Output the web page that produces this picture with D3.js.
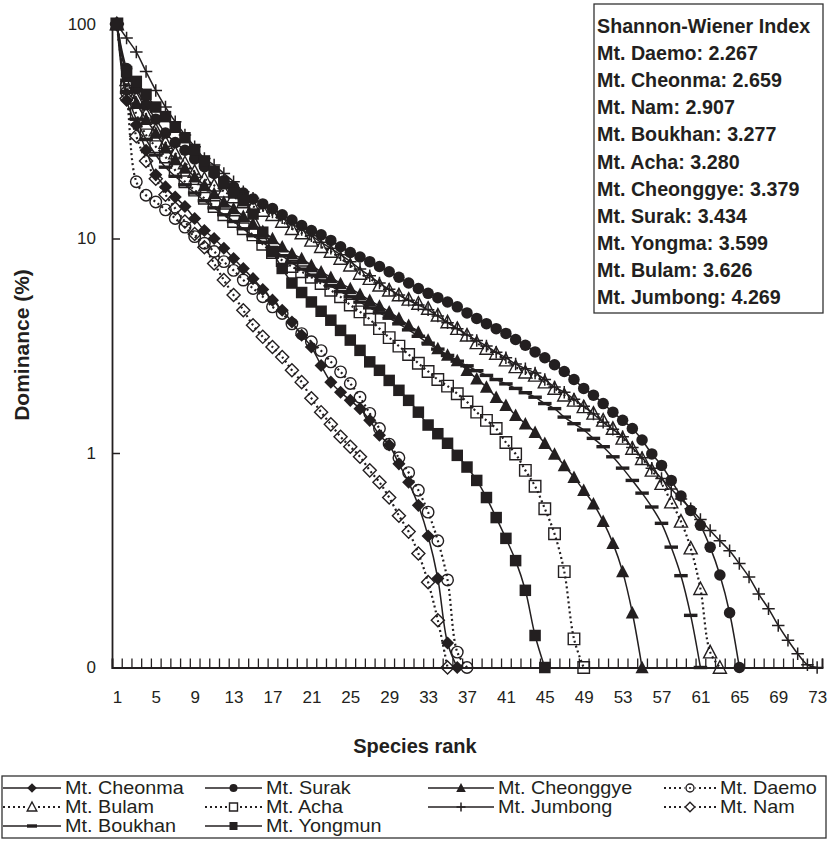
<!DOCTYPE html>
<html><head><meta charset="utf-8">
<script src="https://cdn.jsdelivr.net/npm/d3@7"></script>
<style>
body{margin:0;background:#fff}
svg{display:block}
text{font-family:"Liberation Sans",Arial,Helvetica,sans-serif;fill:#231f20}
</style>
</head><body>
<svg id="chart" width="828" height="841"></svg>
<script>
// ---------------- data ----------------
const cheonma = [100,44,33.8,25.8,19.8,17.4,15.6,14.1,12.4,10.9,10.0,9.0,8.07,7.24,6.5,5.78,5.16,4.63,4.08,3.54,3.12,2.56,2.14,1.92,1.76,1.61,1.42,1.21,1.09,0.89,0.73,0.57,0.41,0.26,0.13,0.1];
const surak = [100,62,50,42,36,31,28,25.8,23.5,21.6,20.1,18.6,17.4,16.3,15.3,14.5,13.8,12.9,12.2,11.5,10.9,10.4,9.8,9.15,8.6,8.2,7.8,7.4,7.0,6.6,6.2,5.85,5.55,5.3,5.06,4.8,4.5,4.24,4.01,3.8,3.61,3.38,3.18,2.96,2.78,2.58,2.4,2.2,2.0,1.86,1.7,1.55,1.42,1.3,1.15,0.99,0.875,0.745,0.63,0.54,0.46,0.364,0.27,0.18,0.1];
const cheonggye = [100,57,43,36,31,26.5,23.5,21.3,19.4,17.7,16.2,14.8,13.8,12.7,11.7,10.8,10.0,9.15,8.5,8.07,7.5,7.0,6.6,6.17,5.85,5.5,5.15,4.85,4.55,4.25,3.94,3.67,3.36,3.07,2.86,2.7,2.43,2.22,2.03,1.82,1.67,1.5,1.37,1.25,1.11,0.99,0.875,0.77,0.67,0.58,0.48,0.38,0.28,0.18,0.1];
const daemo = [100,48,18.4,15.9,14.8,13.6,12.4,11.3,10.2,9.5,8.7,7.8,7.1,6.4,5.85,5.35,4.8,4.47,4.0,3.6,3.3,3.0,2.66,2.39,2.11,1.82,1.53,1.3,1.1,0.95,0.81,0.67,0.53,0.39,0.256,0.118,0.1];
const bulam = [100,55,45,38,32,28,25,22.5,20.5,19,17.7,16.6,15.6,14.8,14.1,13.5,12.9,12.0,11.1,10.6,9.8,9.15,8.7,8.07,7.5,6.87,6.5,6.05,5.74,5.45,5.2,4.98,4.72,4.39,4.08,3.8,3.54,3.26,3.07,2.91,2.71,2.52,2.38,2.3,2.14,2.0,1.86,1.76,1.64,1.53,1.42,1.3,1.17,1.05,0.94,0.83,0.72,0.59,0.48,0.36,0.233,0.118,0.1];
const acha = [100,52,38,30.4,26.8,24,20.8,18.4,16.8,15.4,14.1,12.9,12.0,11.1,10.4,9.4,8.6,7.9,7.4,7.0,6.6,6.17,5.74,5.35,4.9,4.55,4.2,3.8,3.45,3.15,2.88,2.62,2.4,2.2,2.05,1.89,1.73,1.55,1.42,1.3,1.12,0.99,0.83,0.7,0.55,0.42,0.28,0.136,0.1];
const jumbong = [100,86,74,60,49,41,35,30.4,26.8,23.6,22,20.1,18.4,16.5,15.4,14.3,13.3,12.5,11.7,11.0,10.3,9.6,9.0,8.4,7.8,7.2,6.7,6.2,5.8,5.45,5.15,4.9,4.65,4.35,4.05,3.8,3.55,3.35,3.15,2.95,2.78,2.6,2.47,2.36,2.2,2.03,1.92,1.78,1.65,1.52,1.39,1.29,1.19,1.06,0.95,0.85,0.76,0.68,0.61,0.55,0.49,0.435,0.39,0.35,0.305,0.264,0.22,0.188,0.157,0.134,0.116,0.103,0.1];
const nam = [100,45,30,23,19,16,13.8,12,10.5,9.1,7.65,6.4,5.45,4.63,3.94,3.48,3.12,2.8,2.43,2.14,1.8,1.55,1.36,1.19,1.07,0.96,0.83,0.73,0.62,0.51,0.43,0.34,0.25,0.166,0.1];
const boukhan = [100,48,36,29,24.5,21.5,19.5,17.8,16.3,15.0,13.9,12.9,12.0,11.1,10.3,9.6,8.9,8.3,7.7,7.2,6.75,6.35,6.0,5.65,5.35,5.05,4.75,4.5,4.25,4.0,3.75,3.5,3.25,3.05,2.85,2.68,2.55,2.42,2.3,2.2,2.1,2.0,1.91,1.82,1.7,1.61,1.47,1.37,1.28,1.17,1.07,0.96,0.85,0.745,0.65,0.56,0.47,0.364,0.268,0.175,0.1];
const yongmun = [100,60,54,47,41,37,33,29.5,26,23,20.5,18,16.3,15,13,10.7,8.7,7.25,6.2,5.6,5.06,4.58,4.16,3.73,3.36,3.01,2.66,2.43,2.18,1.96,1.76,1.55,1.35,1.23,1.11,0.975,0.86,0.745,0.62,0.5,0.4,0.315,0.229,0.141,0.1];

const seriesNames = ["Mt. Cheonma","Mt. Surak","Mt. Cheonggye","Mt. Daemo","Mt. Bulam","Mt. Acha","Mt. Jumbong","Mt. Nam","Mt. Boukhan","Mt. Yongmun"];
const seriesValues = [cheonma,surak,cheonggye,daemo,bulam,acha,jumbong,nam,boukhan,yongmun];

const xTickLabels = [1,5,9,13,17,21,25,29,33,37,41,45,49,53,57,61,65,69,73];
const yTickValues = [0.1,1,10,100];
const yTickLabels = ["0","1","10","100"];

const shannonTitle = "Shannon-Wiener Index";
const shannonSites = ["Mt. Daemo","Mt. Cheonma","Mt. Nam","Mt. Boukhan","Mt. Acha","Mt. Cheonggye","Mt. Surak","Mt. Yongma","Mt. Bulam","Mt. Jumbong"];
const shannonValues = ["2.267","2.659","2.907","3.277","3.280","3.379","3.434","3.599","3.626","4.269"];

const xTitle = "Species rank";
const yTitle = "Dominance (%)";

// ---------------- styles ----------------
const INK = "#231f20";
const styles = {
  "Mt. Cheonma":  {marker:"diamond",  fill:true,  dotted:false},
  "Mt. Surak":    {marker:"circle",   fill:true,  dotted:false},
  "Mt. Cheonggye":{marker:"triangle", fill:true,  dotted:false},
  "Mt. Daemo":    {marker:"circle",   fill:false, dotted:true},
  "Mt. Bulam":    {marker:"triangle", fill:false, dotted:true},
  "Mt. Acha":     {marker:"square",   fill:false, dotted:true},
  "Mt. Jumbong":  {marker:"plus",     fill:false, dotted:false},
  "Mt. Nam":      {marker:"diamond",  fill:false, dotted:true},
  "Mt. Boukhan":  {marker:"dash",     fill:true,  dotted:false},
  "Mt. Yongmun":  {marker:"square",   fill:true,  dotted:false}
};

function markerPath(type, s){
  const h = s/2;
  switch(type){
    case "diamond": return `M0,${-h-0.8}L${h+0.8},0L0,${h+0.8}L${-h-0.8},0Z`;
    case "circle": return `M${h},0A${h},${h} 0 1,1 ${-h},0A${h},${h} 0 1,1 ${h},0Z`;
    case "triangle": return `M0,${-h-1}L${h+0.8},${h}L${-h-0.8},${h}Z`;
    case "square": return `M${-h},${-h}H${h}V${h}H${-h}Z`;
    case "plus": return `M${-h-0.5},0H${h+0.5}M0,${-h-0.5}V${h+0.5}`;
    case "dash": return `M${-h-1},-1.7H${h+1}V1.7H${-h-1}Z`;
  }
}
function drawMarker(g, type, fill, s){
  const p = g.append("path").attr("d", markerPath(type, s));
  if(type==="plus"){
    p.attr("fill","none").attr("stroke",INK).attr("stroke-width",1.5);
  } else if(fill){
    p.attr("fill",INK).attr("stroke","none");
  } else {
    p.attr("fill","none").attr("stroke",INK).attr("stroke-width",1.4);
  }
  return p;
}

// ---------------- scales ----------------
const svg = d3.select("#chart");
const x = d3.scaleLinear().domain([0.5,73.5]).range([112,822]);
const y = d3.scaleLog().domain([0.1,100]).range([667.5,24]);

// ---------------- axes ----------------
const gx = svg.append("g").attr("transform",`translate(0,${y(0.1)})`);
gx.call(d3.axisTop(x).tickValues(d3.range(0.5,74,1)).tickSize(9).tickFormat(""));
gx.select(".domain").attr("stroke",INK).attr("stroke-width",1.8);
gx.selectAll(".tick line").attr("stroke",INK).attr("stroke-width",1.3);

const gxl = svg.append("g").attr("transform",`translate(0,${y(0.1)})`);
gxl.call(d3.axisBottom(x).tickValues(xTickLabels).tickSize(0).tickPadding(23).tickFormat(d=>String(d)));
gxl.select(".domain").remove();
gxl.selectAll("text").attr("font-size",17).attr("fill",INK).style("font-family","'Liberation Sans',Arial,sans-serif");

const gy = svg.append("g").attr("transform",`translate(${x(0.5)},0)`);
gy.call(d3.axisRight(y).tickValues(yTickValues).tickSize(8).tickFormat(""));
gy.select(".domain").attr("stroke",INK).attr("stroke-width",1.8);
gy.selectAll(".tick line").attr("stroke",INK).attr("stroke-width",1.5);

yTickValues.forEach((v,i)=>{
  svg.append("text").attr("x",96).attr("y",y(v)).attr("dy","0.35em")
    .attr("text-anchor","end").attr("font-size",17).text(yTickLabels[i]);
});

svg.append("text").attr("x",415).attr("y",753).attr("text-anchor","middle")
  .attr("font-size",20).attr("font-weight","bold").text(xTitle);
svg.append("text").attr("transform","translate(29,345) rotate(-90)").attr("text-anchor","middle")
  .attr("font-size",21).attr("font-weight","bold").text(yTitle);

// ---------------- series ----------------
const line = d3.line().x((d,i)=>x(i+1)).y(d=>y(d)).curve(d3.curveCatmullRom.alpha(0.5));
const plot = svg.append("g");
seriesNames.forEach((name,k)=>{
  const st = styles[name];
  const vals = seriesValues[k];
  plot.append("path").attr("d", line(vals)).attr("fill","none").attr("stroke",INK)
    .attr("stroke-width", st.dotted?2.2:1.5)
    .attr("stroke-dasharray", st.dotted?"2,3":null);
  const mg = plot.append("g");
  vals.forEach((v,i)=>{
    const g = mg.append("g").attr("transform",`translate(${x(i+1)},${y(v)})`);
    drawMarker(g, st.marker, st.fill, 11.5);
  });
});

// ---------------- Shannon box ----------------
svg.append("rect").attr("x",594).attr("y",4).attr("width",229).attr("height",309)
  .attr("fill","#fff").attr("stroke","#333").attr("stroke-width",1.3);
svg.append("text").attr("x",597).attr("y",33).attr("font-size",19.7).attr("font-weight","bold").text(shannonTitle);
shannonSites.forEach((s,i)=>{
  svg.append("text").attr("x",597).attr("y",33+27.1*(i+1)).attr("font-size",19.7).attr("font-weight","bold")
    .text(`${s}: ${shannonValues[i]}`);
});

// ---------------- legend ----------------
svg.append("rect").attr("x",2).attr("y",776).attr("width",824).attr("height",62)
  .attr("fill","#fff").attr("stroke","#333").attr("stroke-width",1.3);
const legSym = [[3,61],[205,262],[428,494],[664,716]];
const legRows = [788,807,826];
seriesNames.forEach((name,k)=>{
  const st = styles[name];
  const [x0,x1] = legSym[k%4], cy = legRows[Math.floor(k/4)];
  svg.append("line").attr("x1",x0).attr("x2",x1).attr("y1",cy).attr("y2",cy)
    .attr("stroke",INK).attr("stroke-width",st.dotted?2:1.4)
    .attr("stroke-dasharray",st.dotted?"2,3":null);
  const g = svg.append("g").attr("transform",`translate(${(x0+x1)/2},${cy})`);
  if(!st.fill && st.marker!=="plus"){
    g.append("rect").attr("x",-5.5).attr("y",-5.5).attr("width",11).attr("height",11).attr("fill","#fff");
  }
  drawMarker(g, st.marker, st.fill, 8);
  if(st.marker==="circle" && !st.fill){ g.append("circle").attr("r",1).attr("fill",INK); }
  svg.append("g").attr("transform",`translate(${x1+4},${cy}) scale(1.1,1)`)
    .append("text").attr("dy","0.35em").attr("font-size",18).text(name);
});
</script>
</body></html>
